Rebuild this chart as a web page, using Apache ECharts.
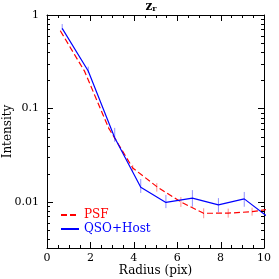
<!DOCTYPE html>
<html><head><meta charset="utf-8">
<script src="https://cdn.jsdelivr.net/npm/echarts@6/dist/echarts.min.js"></script>
<style>html,body{margin:0;padding:0;background:#fff}#c{width:279px;height:279px}</style>
</head><body><div id="c"></div>
<script>
// ---- data ----
const qsoX  = [0.70, 1.90, 3.12, 4.32, 5.48, 6.70, 7.90, 9.09, 10.30];
const qsoY  = [0.72, 0.252, 0.0487, 0.0144, 0.0099, 0.0110, 0.0093, 0.0108, 0.0066];
const qsoLo = [0.69, 0.240, 0.0440, 0.0125, 0.0086, 0.0089, 0.0078, 0.0089, 0.0058];
const qsoHi = [0.80, 0.280, 0.0620, 0.0176, 0.0119, 0.0134, 0.0110, 0.0128, 0.0076];
const psfX  = [0.62, 1.73, 2.84, 3.95, 5.06, 6.17, 7.22, 8.35, 9.45, 10.60];
const psfY  = [0.674, 0.250, 0.0618, 0.0231, 0.0146, 0.0100, 0.00757, 0.0076, 0.00787, 0.00863];
const psfLo = [0.660, 0.245, 0.0600, 0.0215, 0.0129, 0.00885, 0.0067, 0.0068, 0.00714, 0.0078];
const psfHi = [0.690, 0.255, 0.0640, 0.0249, 0.0159, 0.0113, 0.00857, 0.0085, 0.00869, 0.0095];
const xMajor = [0, 2, 4, 6, 8, 10];
const xMinor = [0.5,1,1.5,2.5,3,3.5,4.5,5,5.5,6.5,7,7.5,8.5,9,9.5];
const yMajor = [0.01, 0.1, 1];
const yMinor = [0.004,0.005,0.006,0.007,0.008,0.009,0.02,0.03,0.04,0.05,0.06,0.07,0.08,0.09,0.2,0.3,0.4,0.5,0.6,0.7,0.8,0.9];
const seriesNames = ['PSF', 'QSO+Host'];

const X_MIN = 0, X_MAX = 10, Y_MIN = 0.00322, Y_MAX = 1;
const FONT = 'DejaVu Serif';
const toPairs = (xs, ys) => xs.map((x, i) => [x, ys[i]]);
const errData = (xs, lo, hi) => xs.map((x, i) => [x, lo[i], hi[i]]);

function errRender(color) {
  return function (params, api) {
    const x = api.value(0);
    const p1 = api.coord([x, api.value(1)]);
    const p2 = api.coord([x, api.value(2)]);
    return { type: 'line', shape: { x1: p1[0], y1: p1[1], x2: p2[0], y2: p2[1] },
             style: { stroke: color, lineWidth: 1 } };
  };
}

// tick marks on all four sides, placed through the axes' scales
// item: [x value, y value, length, kind (0 = x tick, 1 = y tick)]
const MAJ = 6, MIN = 3;
const tickData = [].concat(
  xMajor.map(v => [v, 0.1, MAJ, 0]), xMinor.map(v => [v, 0.1, MIN, 0]),
  yMajor.map(v => [5, v, MAJ, 1]), yMinor.map(v => [5, v, MIN, 1]));
function tickRender(params, api) {
  const len = api.value(2), kind = api.value(3);
  const st = { stroke: '#000', lineWidth: 1 };
  if (kind === 0) {
    const v = api.value(0);
    const pb = api.coord([v, Y_MIN]), pt = api.coord([v, Y_MAX]);
    const x = Math.round(pb[0]) + 0.5;
    return { type: 'group', children: [
      { type: 'line', shape: { x1: x, y1: pb[1], x2: x, y2: pb[1] - len }, style: st },
      { type: 'line', shape: { x1: x, y1: pt[1], x2: x, y2: pt[1] + len }, style: st } ] };
  }
  const v = api.value(1);
  const pl = api.coord([X_MIN, v]), pr = api.coord([X_MAX, v]);
  const y = Math.round(pl[1]) + 0.5;
  return { type: 'group', children: [
    { type: 'line', shape: { x1: pl[0], y1: y, x2: pl[0] + len, y2: y }, style: st },
    { type: 'line', shape: { x1: pr[0], y1: y, x2: pr[0] - len, y2: y }, style: st } ] };
}

const chart = echarts.init(document.getElementById('c'), null, { renderer: 'canvas' });
const axLine = { show: true, onZero: false, lineStyle: { color: '#000', width: 1 } };

chart.setOption({
  animation: false,
  backgroundColor: '#fff',
  title: {
    text: '{a|z}{b|r}', left: 151, top: 0, textAlign: 'center', padding: 0,
    textStyle: { rich: {
      a: { fontFamily: FONT, fontSize: 12, fontWeight: 'bold', color: '#000', lineHeight: 13 },
      b: { fontFamily: FONT, fontSize: 8, fontWeight: 'bold', color: '#000', lineHeight: 13, padding: [4, 0, 0, 0] } } }
  },
  grid: { left: 47, right: 15, top: 15, bottom: 31, containLabel: false, outerBoundsMode: 'none' },
  legend: {
    orient: 'vertical', left: 60, top: 209, padding: 0, itemWidth: 18, itemHeight: 10, itemGap: 2,
    itemStyle: { opacity: 0 },
    data: [
      { name: 'PSF', textStyle: { color: '#ff0000' } },
      { name: 'QSO+Host', textStyle: { color: '#0000ff' } }
    ],
    textStyle: { fontFamily: FONT, fontSize: 12 }
  },
  xAxis: [
    { type: 'value', min: X_MIN, max: X_MAX, interval: 2, position: 'bottom',
      axisLine: axLine, splitLine: { show: false }, axisTick: { show: false },
      name: 'Radius (pix)', nameLocation: 'middle', nameGap: 17, nameMoveOverlap: false,
      nameTextStyle: { fontFamily: FONT, fontSize: 12, color: '#000' },
      axisLabel: { show: true, margin: 5, fontFamily: FONT, fontSize: 11, color: '#000' } },
    { type: 'value', min: X_MIN, max: X_MAX, interval: 2, position: 'top',
      axisLine: axLine, splitLine: { show: false }, axisTick: { show: false }, axisLabel: { show: false } }
  ],
  yAxis: [
    { type: 'log', min: Y_MIN, max: Y_MAX, logBase: 10, position: 'left',
      axisLine: axLine, splitLine: { show: false }, axisTick: { show: false },
      name: 'Intensity', nameLocation: 'middle', nameGap: 33, nameMoveOverlap: false,
      nameTextStyle: { fontFamily: FONT, fontSize: 12, color: '#000' },
      axisLabel: { show: true, customValues: yMajor, margin: 8, fontFamily: FONT, fontSize: 11, color: '#000',
                   formatter: v => String(+v.toPrecision(3)) } },
    { type: 'log', min: Y_MIN, max: Y_MAX, logBase: 10, position: 'right',
      axisLine: axLine, splitLine: { show: false }, axisTick: { show: false }, axisLabel: { show: false } }
  ],
  series: [
    { type: 'custom', name: 'ticks', renderItem: tickRender, clip: false,
      data: tickData, silent: true, z: 10 },
    { type: 'custom', name: 'psfErr', renderItem: errRender('#ff9090'), clip: true,
      data: errData(psfX, psfLo, psfHi), silent: true, z: 1 },
    { type: 'custom', name: 'qsoErr', renderItem: errRender('#9090ff'), clip: true,
      data: errData(qsoX, qsoLo, qsoHi), silent: true, z: 1 },
    { type: 'line', name: seriesNames[0], data: toPairs(psfX, psfY), showSymbol: false, symbol: 'none',
      clip: true, color: '#ff0000', lineStyle: { color: '#ff0000', width: 1.2, type: [6, 3] }, z: 3 },
    { type: 'line', name: seriesNames[1], data: toPairs(qsoX, qsoY), showSymbol: false, symbol: 'none',
      clip: true, color: '#0000ff', lineStyle: { color: '#0000ff', width: 1.2 }, z: 4 }
  ]
});
</script></body></html>
